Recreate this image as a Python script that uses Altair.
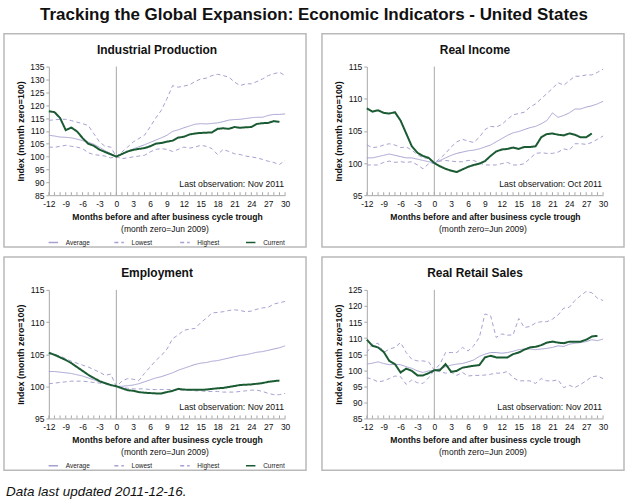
import altair as alt
import pandas as pd

# ---- data -----------------------------------------------------------------
MONTHS = list(range(-12, 31))            # months relative to the trough (Jun 2009 = 0)
X_LABELS = list(range(-12, 31, 3))
SERIES = ["Average", "Lowest", "Highest", "Current"]

# Industrial Production
ip_average = [108.3, 108.0, 107.6, 107.5, 107.3, 106.8, 106.2, 105.6, 104.8, 103.6, 102.3, 101.2, 100.0,
              101.0, 102.0, 103.0, 103.8, 104.6, 105.5, 106.4, 107.3, 108.3, 109.8,
              110.4, 111.2, 111.9, 112.6, 112.8, 112.7, 112.9, 113.1, 113.6, 114.2,
              114.4, 114.5, 114.8, 115.1, 115.3, 115.3, 116.0, 116.4, 116.4, 116.6]
ip_lowest = [103.7, 103.6, 104.0, 104.4, 104.0, 103.7, 103.1, 101.5, 100.8, 100.5, 100.2, 99.5, 100.0,
             99.2, 99.5, 99.9, 100.2, 100.5, 101.8, 102.8, 103.1, 102.8, 102.0,
             102.8, 103.7, 103.3, 103.7, 104.4, 104.0, 103.1, 100.8, 102.8, 102.0,
             101.1, 100.8, 100.2, 99.9, 99.5, 98.9, 98.2, 97.7, 96.9, 98.6]
ip_highest = [114.1, 114.3, 114.5, 114.5, 114.0, 113.4, 112.8, 112.1, 108.9, 105.7, 104.0, 103.7, 100.0,
              101.8, 103.7, 105.7, 107.0, 108.3, 111.5, 115.0, 118.0, 122.5, 127.6,
              127.0, 127.4, 127.9, 129.2, 130.2, 130.5, 131.5, 132.0, 131.5, 130.9,
              129.0, 127.6, 128.3, 128.3, 129.2, 130.2, 131.5, 132.2, 132.8, 131.5]
ip_current = [117.6, 117.3, 115.0, 110.3, 111.3, 109.8, 107.2, 105.0, 104.2, 102.7, 101.8, 100.9, 100.0,
              101.0, 102.0, 102.6, 103.0, 103.3, 104.0, 105.0, 105.3, 105.8, 106.2,
              107.4, 107.7, 108.6, 109.0, 109.2, 109.3, 109.4, 110.8, 111.0, 110.8,
              111.5, 111.2, 111.4, 111.5, 112.7, 113.0, 113.1, 113.8, 113.5]

# Real Income
ri_average = [100.8, 100.8, 101.0, 101.2, 101.4, 101.2, 101.0, 100.8, 100.8, 100.6, 100.4, 100.2, 100.0,
              100.4, 100.8, 101.2, 101.5, 101.7, 101.9, 102.0, 102.2, 102.5, 102.8,
              103.3, 103.8, 104.3, 104.7, 104.9, 105.2, 105.5, 105.7, 106.1, 106.6,
              107.8, 107.1, 107.4, 107.8, 108.4, 108.4, 108.7, 108.9, 109.2, 109.6]
ri_lowest = [99.7, 99.7, 99.7, 100.1, 100.3, 100.1, 100.2, 100.1, 100.2, 99.7, 99.1, 99.9, 100.0,
             100.3, 100.4, 100.3, 100.2, 100.2, 100.4, 100.4, 100.0, 99.7, 99.7,
             99.7, 99.9, 100.1, 99.7, 99.7, 99.9, 100.7, 101.5, 101.6, 101.5,
             101.5, 101.7, 102.2, 102.0, 103.0, 103.0, 102.9, 103.2, 103.7, 104.2]
ri_highest = [102.8, 102.4, 102.5, 102.8, 103.0, 102.8, 102.4, 102.5, 102.0, 101.3, 100.8, 100.7, 100.0,
              100.7, 101.5, 102.5, 103.3, 103.7, 103.4, 103.2, 104.0, 105.2, 105.7,
              105.6, 106.0, 106.8, 107.5, 107.7, 107.9, 108.7, 109.2, 110.0, 110.8,
              111.6, 112.5, 112.1, 112.8, 113.5, 113.5, 113.7, 113.7, 114.1, 114.6]
ri_current = [108.5, 108.0, 108.2, 107.8, 107.7, 107.9, 106.6, 104.6, 102.6, 101.6, 101.1, 100.8, 100.0,
              99.5, 99.1, 98.8, 98.6, 99.0, 99.4, 99.7, 99.9, 100.3, 101.1,
              101.8, 102.1, 102.2, 102.4, 102.2, 102.5, 102.5, 102.6, 104.0, 104.5,
              104.6, 104.4, 104.3, 104.6, 104.4, 104.0, 104.0, 104.6]

# Employment
em_average = [102.3, 102.3, 102.2, 102.1, 102.0, 101.8, 101.6, 101.3, 101.0, 100.7, 100.4, 100.2, 100.0,
              100.0, 100.1, 100.2, 100.4, 100.7, 101.0, 101.3, 101.5, 101.8, 102.1,
              102.5, 102.8, 103.1, 103.4, 103.6, 103.7, 103.9, 104.0, 104.2, 104.4,
              104.6, 104.8, 104.9, 105.1, 105.3, 105.4, 105.6, 105.8, 106.0, 106.3]
em_lowest = [100.4, 100.5, 100.6, 100.7, 100.8, 100.8, 100.8, 100.7, 100.6, 100.5, 100.4, 100.2, 100.0,
             99.8, 99.7, 99.6, 99.6, 99.6, 99.5, 99.5, 99.5, 99.5, 99.5,
             99.4, 99.4, 99.4, 99.3, 99.3, 99.2, 99.2, 99.2, 99.1, 99.1,
             99.1, 99.2, 99.3, 99.4, 99.4, 99.2, 98.9, 98.7, 98.7, 98.9]
em_highest = [105.3, 105.0, 104.7, 104.3, 103.9, 103.6, 103.3, 103.0, 102.6, 102.2, 101.7, 101.9, 100.0,
              100.8, 101.2, 101.1, 100.9, 102.0, 103.0, 104.0, 104.8, 105.8, 107.4,
              108.0, 108.7, 108.9, 109.0, 109.9, 110.6, 111.4, 111.5, 111.6, 111.8,
              111.9, 111.8, 111.6, 111.7, 112.0, 112.2, 112.3, 112.8, 113.0, 113.2]
em_current = [105.2, 104.9, 104.5, 104.1, 103.6, 103.0, 102.4, 101.8, 101.3, 100.8, 100.5, 100.2, 100.0,
              99.7, 99.4, 99.3, 99.1, 99.0, 98.95, 98.9, 98.9, 99.1, 99.3,
              99.6, 99.5, 99.45, 99.45, 99.45, 99.5, 99.6, 99.7, 99.75, 99.9,
              100.05, 100.2, 100.25, 100.3, 100.4, 100.5, 100.7, 100.8, 100.9]

# Real Retail Sales
rs_average = [101.9, 102.2, 102.6, 102.1, 101.7, 101.9, 101.7, 101.1, 100.6, 99.8, 99.3, 99.8, 100.0,
              100.5, 101.1, 101.6, 101.9, 102.1, 102.6, 103.2, 104.3, 105.0, 105.5,
              105.5, 105.3, 105.5, 105.9, 106.4, 106.6, 106.6, 106.4, 106.6, 106.8,
              107.1, 107.6, 107.4, 108.1, 108.4, 108.6, 108.9, 109.5, 109.2, 109.7]
rs_lowest = [97.7, 97.2, 96.4, 96.7, 97.4, 98.2, 98.0, 95.6, 97.0, 96.1, 95.9, 97.7, 100.0,
             99.5, 99.1, 99.3, 98.4, 99.3, 98.2, 98.4, 98.4, 98.5, 98.75,
             99.1, 99.1, 99.6, 97.7, 96.7, 96.7, 96.7, 95.9, 97.4, 96.7,
             96.7, 97.0, 94.6, 95.3, 94.6, 95.6, 96.7, 98.0, 98.2, 97.4]
rs_highest = [105.5, 108.1, 108.4, 105.5, 106.6, 107.1, 108.6, 105.5, 103.4, 102.9, 102.9, 102.6, 100.0,
              101.9, 105.5, 105.5, 105.5, 107.1, 106.0, 107.6, 110.2, 117.5, 117.0,
              110.2, 111.3, 110.9, 111.0, 116.1, 113.3, 113.6, 114.7, 115.1, 115.1,
              115.9, 117.2, 119.3, 119.6, 121.7, 123.2, 124.5, 124.1, 122.4, 121.7]
rs_current = [109.5, 107.6, 107.1, 105.7, 102.9, 101.9, 99.3, 100.5, 99.8, 98.4, 98.4, 99.1, 100.0,
              100.0, 101.9, 99.5, 99.8, 100.8, 101.1, 101.4, 101.6, 104.0, 104.5,
              104.0, 104.0, 104.0, 105.0, 105.5, 106.4, 107.1, 107.3, 107.8, 108.6,
              108.9, 108.6, 108.4, 108.9, 108.9, 108.9, 109.5, 110.5, 110.7]

# ---- styling --------------------------------------------------------------
FONT = "Liberation Sans"
PURPLE = "#a5a1d1"
GREEN = "#1b5b33"
GRAY = "#a8a8a8"
FRAME = "#b9b9b9"
W, H = 237, 129

X_AXIS = alt.Axis(
    values=X_LABELS, grid=False, ticks=False, domainColor=GRAY,
    labelExpr="datum.value + ''",          # plain hyphen for negative months
    labelFontSize=8.5, labelFont=FONT, labelColor="#111", labelPadding=4,
    labelFlush=False, labelOverlap=False,
    title="Months before and after business cycle trough",
    titleFont=FONT, titleFontSize=8.6, titleFontWeight="bold",
    titleColor="#111", titlePadding=5,
)


def series_frame(avg, low, high, cur):
    rows = []
    for name, vals in zip(SERIES, [avg, low, high, cur]):
        for m, v in zip(MONTHS, vals):
            rows.append({"month": m, "value": v, "series": name})
    return pd.DataFrame(rows)


def panel(title, avg, low, high, cur, y_domain, last_obs, footer=None):
    df = series_frame(avg, low, high, cur)
    one = pd.DataFrame({"k": [0]})
    x_scale = alt.Scale(domain=[-12, 30], nice=False, zero=False)
    y_scale = alt.Scale(domain=y_domain, nice=False, zero=False)
    x_enc = alt.X("month:Q", scale=x_scale, axis=X_AXIS)

    legend = alt.Legend(
        title=None, orient="none", legendX=-1, legendY=171, direction="horizontal",
        columns=4, symbolType="stroke", symbolSize=90, symbolStrokeWidth=1.5,
        labelFontSize=6.5, labelFont=FONT, labelColor="#222", labelOffset=7,
        columnPadding=20, gridAlign="all", padding=0,
    )

    frame = alt.Chart(one).mark_rect(
        filled=False, stroke=FRAME, strokeWidth=1.5
    ).encode(
        x=alt.value(-45), x2=alt.value(W + 21),
        y=alt.value(-33), y2=alt.value(H + 52),
    )

    zero_line = alt.Chart(pd.DataFrame({"month": [0]})).mark_rule(
        color=GRAY, strokeWidth=1
    ).encode(x=x_enc, y=alt.value(0), y2=alt.value(H))

    minor_ticks = alt.Chart(pd.DataFrame({"month": MONTHS})).mark_rule(
        color=GRAY, strokeWidth=1
    ).encode(x=x_enc, y=alt.value(H - 3), y2=alt.value(H))

    lines = alt.Chart(df).mark_line().encode(
        x=x_enc,
        y=alt.Y(
            "value:Q", scale=y_scale,
            axis=alt.Axis(
                values=list(range(y_domain[0], y_domain[1] + 1, 5)), grid=False,
                domainColor=GRAY, tickColor=GRAY, tickSize=3,
                labelFontSize=8.5, labelFont=FONT, labelColor="#111", labelPadding=2,
                title="Index (month zero=100)", titleFont=FONT, titleFontSize=9,
                titleFontWeight="bold", titleColor="#111", titlePadding=4,
            ),
        ),
        color=alt.Color("series:N", scale=alt.Scale(domain=SERIES, range=[PURPLE, PURPLE, PURPLE, GREEN]), legend=legend),
        strokeDash=alt.StrokeDash("series:N", scale=alt.Scale(domain=SERIES, range=[[1, 0], [4, 3], [4, 3], [1, 0]]), legend=legend),
        strokeWidth=alt.condition(alt.datum.series == "Current", alt.value(2), alt.value(1)),
    )

    head = alt.Chart(one).mark_text(
        text=title, font=FONT, fontSize=12, fontWeight="bold", color="#111",
        align="center", baseline="middle",
    ).encode(x=alt.value(W / 2 - 10), y=alt.value(-17))

    obs = alt.Chart(one).mark_text(
        text=last_obs, font=FONT, fontSize=8.7, color="#111",
        align="right", baseline="middle",
    ).encode(x=alt.value(W - 1), y=alt.value(H - 11))

    sub = alt.Chart(one).mark_text(
        text="(month zero=Jun 2009)", font=FONT, fontSize=8.5, color="#111",
        align="center", baseline="middle",
    ).encode(x=alt.value(W / 2 - 2), y=alt.value(H + 34))

    layers = [frame, zero_line, minor_ticks, lines, head, obs, sub]
    if footer:
        layers.append(
            alt.Chart(one).mark_text(
                text=footer, font=FONT, fontSize=13.5, fontStyle="italic", color="#111",
                align="left", baseline="middle",
            ).encode(x=alt.value(-43), y=alt.value(H + 74))
        )
    return alt.layer(*layers).properties(width=W, height=H)


p1 = panel("Industrial Production", ip_average, ip_lowest, ip_highest, ip_current,
           [85, 135], "Last observation: Nov 2011")
p2 = panel("Real Income", ri_average, ri_lowest, ri_highest, ri_current,
           [95, 115], "Last observation: Oct 2011")
p3 = panel("Employment", em_average, em_lowest, em_highest, em_current,
           [95, 115], "Last observation: Nov 2011", footer="Data last updated 2011-12-16.")
p4 = panel("Real Retail Sales", rs_average, rs_lowest, rs_highest, rs_current,
           [85, 125], "Last observation: Nov 2011")

top = alt.hconcat(p1, p2, spacing=14).resolve_scale(y="independent", x="independent")
bottom = alt.hconcat(p3, p4, spacing=14).resolve_scale(y="independent", x="independent")

chart = alt.vconcat(top, bottom, spacing=8).resolve_scale(
    y="independent", x="independent"
).resolve_legend(
    color="independent", strokeDash="independent"
).properties(
    title=alt.TitleParams(
        text="Tracking the Global Expansion: Economic Indicators - United States",
        font=FONT, fontSize=17, fontWeight="bold", color="#111",
        anchor="middle", offset=9,
    ),
    padding={"left": 3, "top": 5, "right": 0, "bottom": 0},
    background="white",
).configure_view(stroke=None)

chart.save("out.html", embed_options={"renderer": "svg", "actions": False})
